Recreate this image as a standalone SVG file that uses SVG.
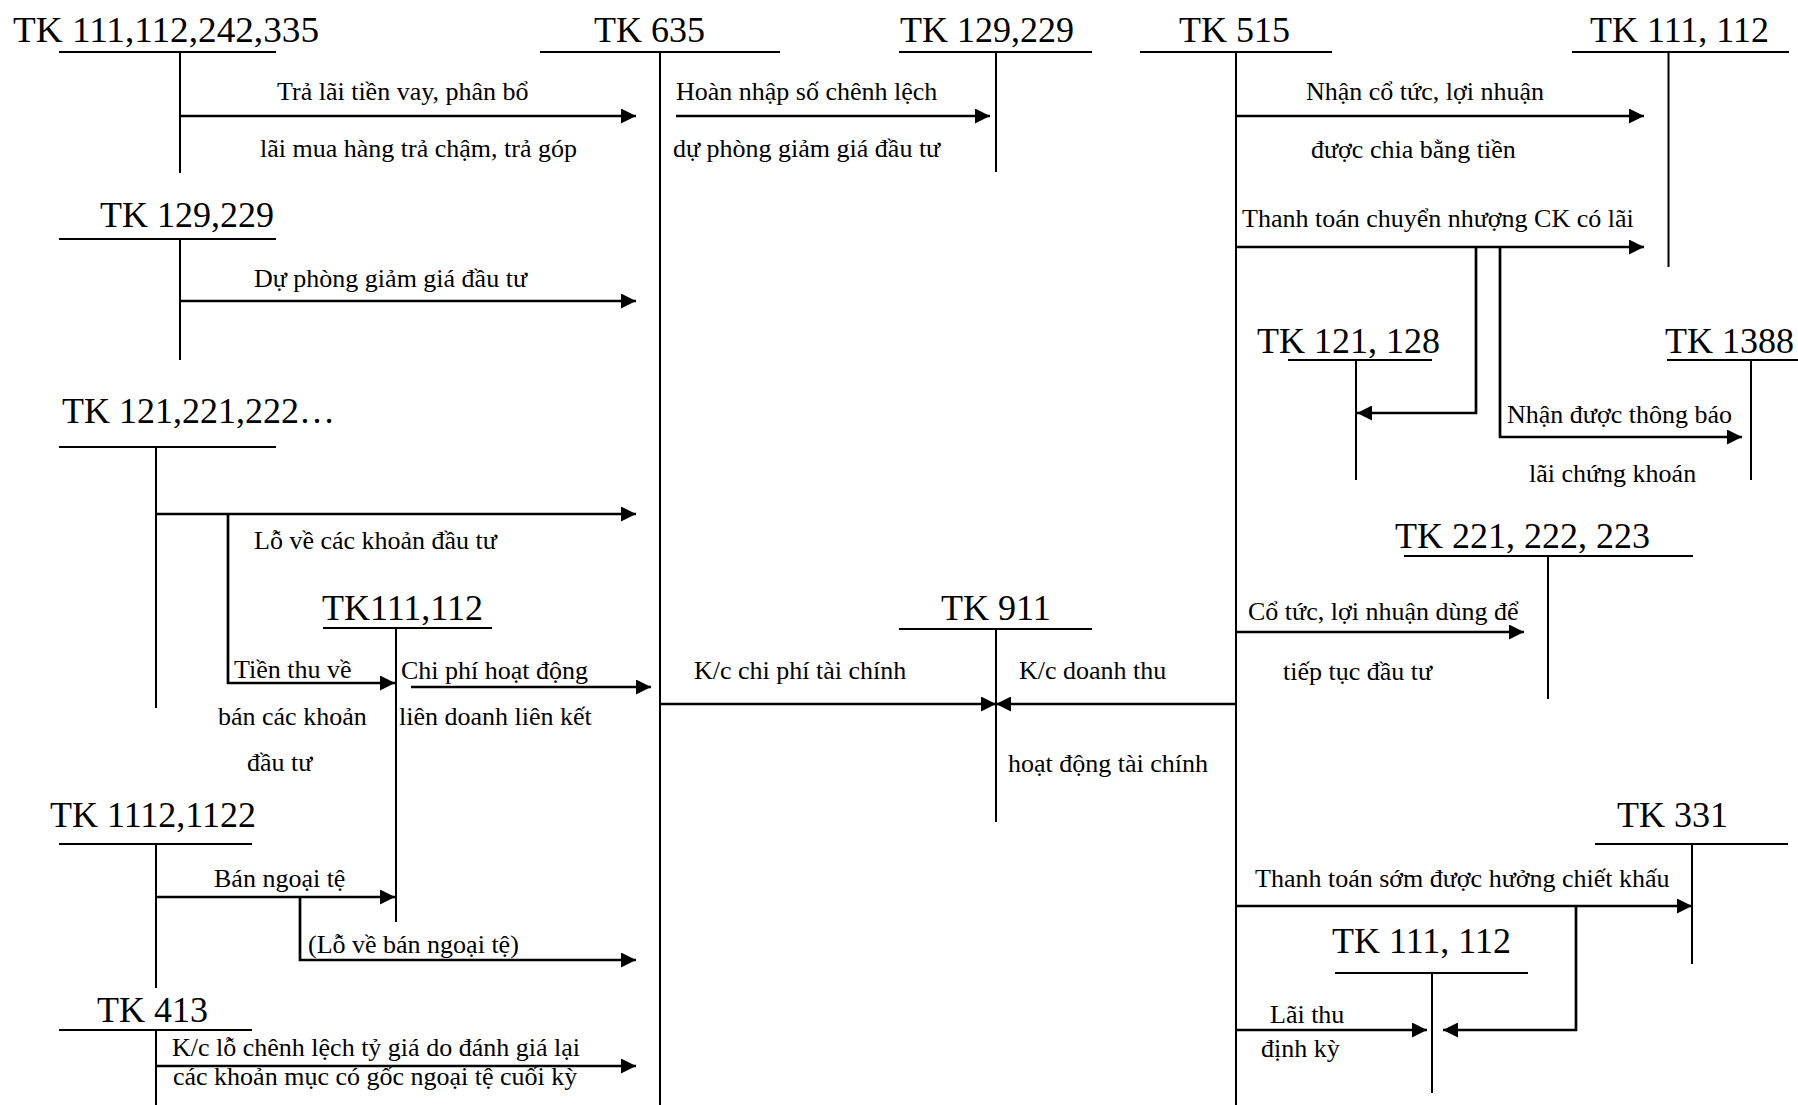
<svg xmlns="http://www.w3.org/2000/svg" width="1798" height="1105" viewBox="0 0 1798 1105">
  <style>
    text { font-family: "Liberation Serif", "Times New Roman", serif; fill: #000; }
    .title { font-size: 36px; }
    .lbl { font-size: 26px; }
    .t { stroke: #000; stroke-width: 2; fill: none; }
    .c { stroke: #000; stroke-width: 2.7; fill: none; }
    .arr { marker-end: url(#ah); }
  </style>
  <defs>
    <marker id="ah" markerUnits="userSpaceOnUse" markerWidth="16" markerHeight="15" refX="15" refY="7.5" orient="auto">
      <path d="M0,0 L15,7.5 L0,15 z" fill="#000"/>
    </marker>
  </defs>
  <rect width="1798" height="1105" fill="#fff"/>

  <!-- T-accounts: title, header rule, stem -->
  <g id="tk-111-112-242-335">
    <text class="title" x="13" y="42" textLength="306" lengthAdjust="spacingAndGlyphs">TK 111,112,242,335</text>
    <path class="t" d="M59,52 H276 M180,52 V173"/>
  </g>
  <g id="tk-635">
    <text class="title" x="594" y="42">TK 635</text>
    <path class="t" d="M540,52 H780 M660,52 V1105"/>
  </g>
  <g id="tk-129-229-top">
    <text class="title" x="900" y="42">TK 129,229</text>
    <path class="t" d="M899,52 H1092 M996,52 V172"/>
  </g>
  <g id="tk-515">
    <text class="title" x="1179" y="42">TK 515</text>
    <path class="t" d="M1140,52 H1332 M1236,52 V1105"/>
  </g>
  <g id="tk-111-112-top">
    <text class="title" x="1590" y="42">TK 111, 112</text>
    <path class="t" d="M1572,52 H1789 M1668.5,52 V267"/>
  </g>
  <g id="tk-129-229-left">
    <text class="title" x="100" y="227">TK 129,229</text>
    <path class="t" d="M59,239 H276 M180,239 V360"/>
  </g>
  <g id="tk-121-221-222">
    <text class="title" x="62" y="423">TK 121,221,222…</text>
    <path class="t" d="M59,447 H276 M156,447 V708"/>
  </g>
  <g id="tk-121-128">
    <text class="title" x="1257" y="353">TK 121, 128</text>
    <path class="t" d="M1288,360 H1432 M1356,360 V480"/>
  </g>
  <g id="tk-1388">
    <text class="title" x="1665" y="353">TK 1388</text>
    <path class="t" d="M1667,360 H1798 M1751,360 V480"/>
  </g>
  <g id="tk-221-222-223">
    <text class="title" x="1395" y="548">TK 221, 222, 223</text>
    <path class="t" d="M1404,556 H1693 M1548,556 V699"/>
  </g>
  <g id="tk-111-112-mid">
    <text class="title" x="322" y="620">TK111,112</text>
    <path class="t" d="M323,628 H492 M396,628 V922"/>
  </g>
  <g id="tk-911">
    <text class="title" x="941" y="620">TK 911</text>
    <path class="t" d="M899,629 H1092 M996,629 V822"/>
  </g>
  <g id="tk-1112-1122">
    <text class="title" x="50" y="827">TK 1112,1122</text>
    <path class="t" d="M59,844 H252 M156,844 V988"/>
  </g>
  <g id="tk-413">
    <text class="title" x="97" y="1022">TK 413</text>
    <path class="t" d="M59,1030 H252 M156,1030 V1105"/>
  </g>
  <g id="tk-331">
    <text class="title" x="1617" y="827">TK 331</text>
    <path class="t" d="M1595,844 H1788 M1692,844 V964"/>
  </g>
  <g id="tk-111-112-bottom">
    <text class="title" x="1332" y="953">TK 111, 112</text>
    <path class="t" d="M1335,973 H1528 M1432,973 V1093"/>
  </g>

  <!-- Postings between accounts -->
  <g id="connectors">
    <path class="c arr" d="M180,116 H636"/>
    <path class="c arr" d="M676,116 H990"/>
    <path class="c arr" d="M1236,116 H1644"/>
    <path class="c arr" d="M1236,247 H1644"/>
    <path class="c arr" d="M1476,247 V413 H1357"/>
    <path class="c arr" d="M1500,247 V437 H1742"/>
    <path class="c arr" d="M180,301 H636"/>
    <path class="c arr" d="M156,514 H636"/>
    <path class="c arr" d="M228,514 V683 H395"/>
    <path class="c arr" d="M411,687 H651"/>
    <path class="c arr" d="M660,704 H996"/>
    <path class="c arr" d="M1236,704 H996"/>
    <path class="c arr" d="M1236,632 H1524"/>
    <path class="c arr" d="M156,897 H395"/>
    <path class="c arr" d="M300,897 V960 H636"/>
    <path class="c arr" d="M156,1066 H636"/>
    <path class="c arr" d="M1236,906 H1692"/>
    <path class="c arr" d="M1576,906 V1030 H1443"/>
    <path class="c arr" d="M1236,1030 H1427"/>

    <g class="lbl">
      <text class="lbl" x="277" y="100">Trả lãi tiền vay, phân bổ</text>
      <text class="lbl" x="260" y="157">lãi mua hàng trả chậm, trả góp</text>
      <text class="lbl" x="676" y="100">Hoàn nhập số chênh lệch</text>
      <text class="lbl" x="673" y="157">dự phòng giảm giá đầu tư</text>
      <text class="lbl" x="1306" y="100">Nhận cổ tức, lợi nhuận</text>
      <text class="lbl" x="1311" y="158">được chia bằng tiền</text>
      <text class="lbl" x="1242" y="227">Thanh toán chuyển nhượng CK có lãi</text>
      <text class="lbl" x="1507" y="423">Nhận được thông báo</text>
      <text class="lbl" x="1529" y="482">lãi chứng khoán</text>
      <text class="lbl" x="254" y="287">Dự phòng giảm giá đầu tư</text>
      <text class="lbl" x="254" y="549">Lỗ về các khoản đầu tư</text>
      <text class="lbl" x="234" y="678">Tiền thu về</text>
      <text class="lbl" x="218" y="725">bán các khoản</text>
      <text class="lbl" x="247" y="771">đầu tư</text>
      <text class="lbl" x="401" y="679">Chi phí hoạt động</text>
      <text class="lbl" x="399" y="725">liên doanh liên kết</text>
      <text class="lbl" x="694" y="679">K/c chi phí tài chính</text>
      <text class="lbl" x="1019" y="679">K/c doanh thu</text>
      <text class="lbl" x="1008" y="772">hoạt động tài chính</text>
      <text class="lbl" x="1248" y="620">Cổ tức, lợi nhuận dùng để</text>
      <text class="lbl" x="1283" y="680">tiếp tục đầu tư</text>
      <text class="lbl" x="214" y="887">Bán ngoại tệ</text>
      <text class="lbl" x="308" y="953">(Lỗ về bán ngoại tệ)</text>
      <text class="lbl" x="172" y="1056">K/c lỗ chênh lệch tỷ giá do đánh giá lại</text>
      <text class="lbl" x="173" y="1085">các khoản mục có gốc ngoại tệ cuối kỳ</text>
      <text class="lbl" x="1255" y="887">Thanh toán sớm được hưởng chiết khấu</text>
      <text class="lbl" x="1270" y="1023">Lãi thu</text>
      <text class="lbl" x="1261" y="1057">định kỳ</text>
    </g>
  </g>
</svg>
